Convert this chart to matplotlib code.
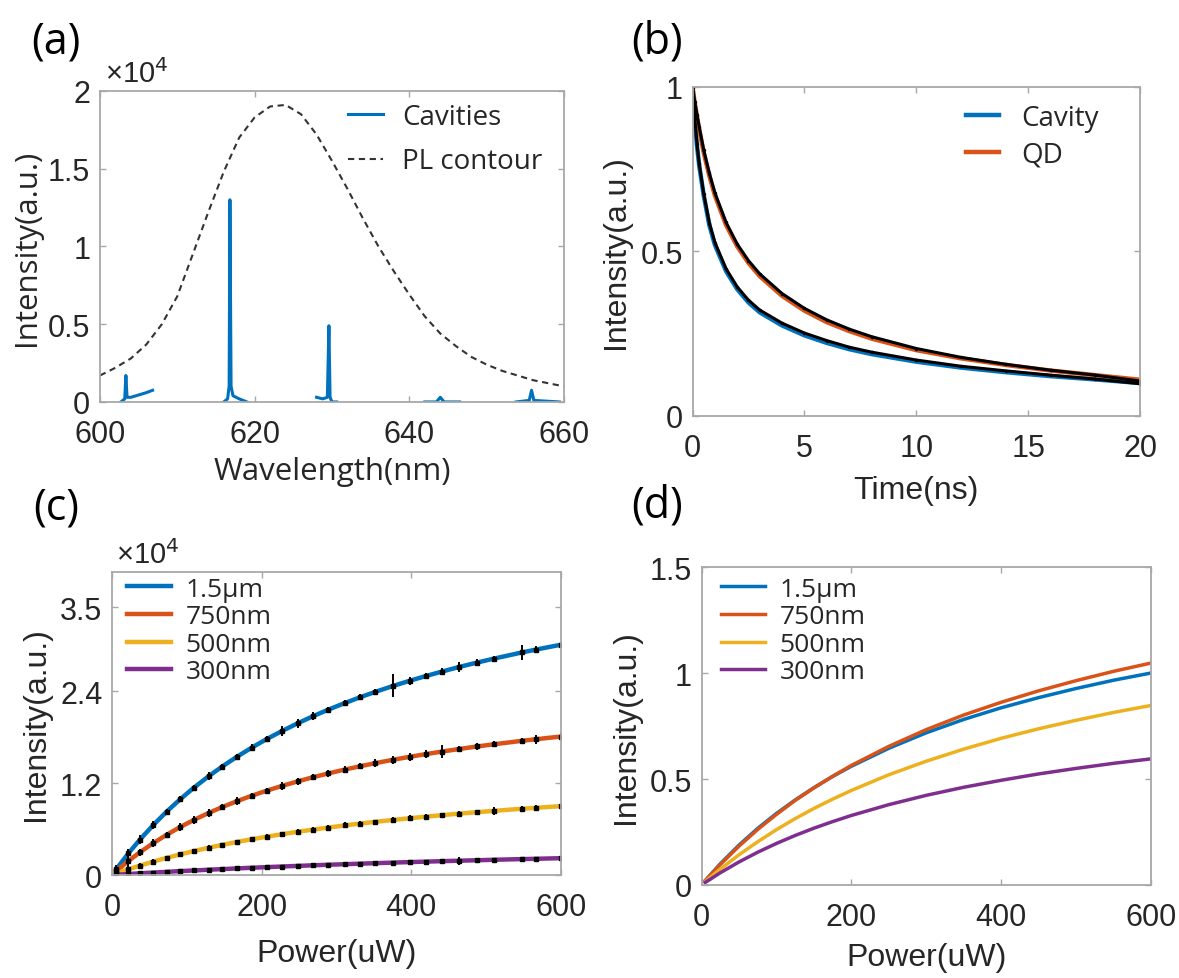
import numpy as np
import matplotlib
matplotlib.use("Agg")
import matplotlib.pyplot as plt

# ---------------- data ----------------
# (a) PL contour (x1e4)
pl_wl = [600, 602, 604, 606, 608, 610, 612, 614, 616, 618, 620, 622, 624, 626, 628, 630,
         632, 634, 636, 638, 640, 642, 644, 646, 648, 650, 652, 654, 656, 658, 660]
pl_int = [0.17, 0.22, 0.28, 0.37, 0.50, 0.68, 0.95, 1.22, 1.48, 1.70, 1.83, 1.90, 1.91, 1.85,
          1.72, 1.55, 1.37, 1.18, 1.00, 0.84, 0.69, 0.55, 0.44, 0.36, 0.29, 0.24, 0.20, 0.17,
          0.14, 0.12, 0.10]
# (a) cavity spectrum segments (x1e4)
cav_wl = [602.7, 603.2, 603.35, 603.5, 604.0, 605.0, 606.0, 606.8, np.nan,
          616.0, 616.5, 616.7, 616.8, 616.95, 617.2, 618.0, 619.0, np.nan,
          628.0, 628.8, 629.4, 629.6, 629.75, 630.0, 630.6, np.nan,
          642.0, 643.5, 644.0, 644.5, 646.5, np.nan,
          653.8, 655.5, 655.8, 656.1, 659.4]
cav_int = [0.0, 0.02, 0.17, 0.03, 0.03, 0.045, 0.06, 0.075, np.nan,
           0.0, 0.02, 0.10, 1.30, 0.10, 0.04, 0.02, 0.0, np.nan,
           0.03, 0.02, 0.03, 0.49, 0.03, 0.0, 0.0, np.nan,
           0.0, 0.0, 0.03, 0.0, 0.0, np.nan,
           0.0, 0.01, 0.075, 0.01, 0.0]

# (b) time-resolved decay
t_ns = [0, 0.1, 0.2, 0.3, 0.5, 0.75, 1.0, 1.5, 2.0, 2.5, 3.0, 4.0, 5.0, 6.0, 7.0, 8.0,
        10, 12, 14, 16, 18, 20]
cavity_fit = [1.0, 0.90, 0.82, 0.76, 0.67, 0.58, 0.52, 0.44, 0.385, 0.345, 0.315, 0.275,
              0.245, 0.222, 0.203, 0.188, 0.165, 0.147, 0.133, 0.121, 0.111, 0.10]
cavity_data = [1.0, 0.905, 0.825, 0.765, 0.675, 0.587, 0.527, 0.447, 0.392, 0.352, 0.322,
               0.282, 0.252, 0.229, 0.209, 0.194, 0.170, 0.151, 0.137, 0.124, 0.112, 0.098]
qd_fit = [1.0, 0.95, 0.91, 0.87, 0.80, 0.73, 0.67, 0.58, 0.515, 0.465, 0.425, 0.365, 0.32,
          0.285, 0.258, 0.235, 0.20, 0.175, 0.155, 0.138, 0.124, 0.11]
qd_data = [1.0, 0.955, 0.915, 0.878, 0.808, 0.738, 0.678, 0.588, 0.522, 0.472, 0.432, 0.372,
           0.327, 0.292, 0.264, 0.241, 0.205, 0.178, 0.157, 0.139, 0.124, 0.106]

# (c) power dependence (x1e4)
power_c = [6, 22, 37, 55, 73, 91, 109, 129, 147, 167, 187, 207, 227, 248, 269, 289, 311, 331,
           352, 376, 398, 420, 441, 464, 488, 510, 548, 566, 600]
c_15um = [0.081, 0.284, 0.459, 0.652, 0.828, 0.989, 1.138, 1.290, 1.416, 1.546, 1.666, 1.778,
          1.881, 1.982, 2.077, 2.161, 2.247, 2.321, 2.394, 2.472, 2.539, 2.602, 2.659, 2.719,
          2.777, 2.827, 2.909, 2.945, 3.010]
c_750nm = [0.053, 0.183, 0.295, 0.416, 0.526, 0.626, 0.718, 0.810, 0.887, 0.965, 1.037, 1.103,
           1.164, 1.223, 1.279, 1.327, 1.378, 1.420, 1.462, 1.507, 1.545, 1.581, 1.613, 1.647,
           1.680, 1.708, 1.754, 1.774, 1.810]
c_500nm = [0.021, 0.075, 0.122, 0.175, 0.224, 0.269, 0.312, 0.356, 0.393, 0.432, 0.468, 0.501,
           0.533, 0.565, 0.594, 0.620, 0.648, 0.672, 0.695, 0.720, 0.742, 0.763, 0.782, 0.802,
           0.821, 0.838, 0.866, 0.878, 0.900]
c_300nm = [0.004, 0.013, 0.022, 0.032, 0.041, 0.051, 0.059, 0.069, 0.077, 0.086, 0.095, 0.103,
           0.111, 0.119, 0.127, 0.134, 0.141, 0.148, 0.155, 0.162, 0.169, 0.175, 0.181, 0.187,
           0.193, 0.199, 0.208, 0.212, 0.220]
err_15um = [0.05, 0.06, 0.06, 0.05, 0.04, 0.04, 0.04, 0.05, 0.04, 0.04, 0.04, 0.04, 0.06, 0.06,
            0.05, 0.04, 0.04, 0.04, 0.04, 0.15, 0.05, 0.04, 0.04, 0.07, 0.04, 0.04, 0.10, 0.05, 0.04]
err_750nm = [0.05, 0.06, 0.05, 0.05, 0.04, 0.05, 0.05, 0.05, 0.04, 0.05, 0.04, 0.04, 0.05, 0.05,
             0.04, 0.05, 0.05, 0.04, 0.05, 0.05, 0.05, 0.05, 0.08, 0.04, 0.04, 0.04, 0.04, 0.06, 0.04]
err_500nm = [0.04, 0.04, 0.03, 0.03, 0.03, 0.03, 0.03, 0.03, 0.03, 0.03, 0.03, 0.03, 0.03, 0.03,
             0.03, 0.03, 0.04, 0.03, 0.03, 0.04, 0.04, 0.03, 0.03, 0.04, 0.03, 0.05, 0.03, 0.04, 0.03]
err_300nm = [0.02, 0.02, 0.02, 0.02, 0.02, 0.02, 0.02, 0.02, 0.02, 0.02, 0.02, 0.02, 0.02, 0.02,
             0.02, 0.02, 0.02, 0.02, 0.02, 0.02, 0.02, 0.02, 0.02, 0.05, 0.02, 0.02, 0.02, 0.02, 0.02]

# (d) normalized fits
power_d = [5, 25, 50, 75, 100, 125, 150, 175, 200, 250, 300, 350, 400, 450, 500, 550, 600]
d_15um = [0.021, 0.0997, 0.188, 0.267, 0.3375, 0.401, 0.459, 0.512, 0.560, 0.645, 0.718, 0.781,
          0.836, 0.884, 0.927, 0.966, 1.000]
d_750nm = [0.020, 0.0965, 0.183, 0.262, 0.333, 0.399, 0.458, 0.513, 0.564, 0.654, 0.733, 0.802,
           0.862, 0.916, 0.964, 1.008, 1.047]
d_500nm = [0.016, 0.0747, 0.1425, 0.204, 0.261, 0.313, 0.361, 0.405, 0.446, 0.520, 0.584, 0.641,
           0.692, 0.737, 0.777, 0.814, 0.847]
d_300nm = [0.012, 0.0574, 0.1086, 0.1546, 0.196, 0.2336, 0.268, 0.299, 0.328, 0.379, 0.423,
           0.461, 0.494, 0.524, 0.550, 0.574, 0.595]

series_labels = ["1.5\u00b5m", "750nm", "500nm", "300nm"]

# ---------------- style ----------------
C_BLUE = "#0072BD"
C_ORANGE = "#D95319"
C_YELLOW = "#EDB120"
C_PURPLE = "#7E2F8E"
TXT = "#262626"
SPINE = "#a8a8a8"
TICKFONT = ["Liberation Sans", "DejaVu Sans"]
LABFONT = ["Open Sans", "DejaVu Sans"]
TICK_FS = 22

fig = plt.figure(figsize=(11.79, 9.79), dpi=100)


def style_axes(ax):
    for s in ax.spines.values():
        s.set_color(SPINE)
        s.set_linewidth(1.3)
    ax.tick_params(direction="in", length=4, width=1.0, color=SPINE, top=True, right=True,
                   labelsize=TICK_FS, labelcolor=TXT)
    ax.tick_params(axis="x", pad=12)
    ax.tick_params(axis="y", pad=7)
    for lab in ax.get_xticklabels() + ax.get_yticklabels():
        lab.set_family(TICKFONT)


def set_labels(ax, xl, yl, xpos, ypos, font, fs):
    ax.set_xlabel(xl, fontsize=fs, color=TXT, family=font)
    ax.set_ylabel(yl, fontsize=fs, color=TXT, family=font)
    ax.xaxis.label.set(va="center", ha="center", rotation_mode="anchor")
    ax.yaxis.label.set(va="center", ha="center", rotation_mode="anchor")
    ax.xaxis.set_label_coords(0.5, xpos)
    ax.yaxis.set_label_coords(ypos, 0.5)


# ---------------- (a) ----------------
axa = fig.add_axes([0.0848, 0.5884, 0.3936, 0.3177])
axa.plot(cav_wl, cav_int, color=C_BLUE, lw=2.2, label="Cavities")
axa.plot(pl_wl, pl_int, color="#333333", lw=1.5, ls=(0, (3, 2.2)), label="PL contour")
axa.set_xlim(600, 660)
axa.set_ylim(0, 2)
axa.set_xticks([600, 620, 640, 660])
axa.set_xticklabels(["600", "620", "640", "660"])
axa.set_yticks([0, 0.5, 1, 1.5, 2])
axa.set_yticklabels(["0", "0.5", "1", "1.5", "2"])
style_axes(axa)
set_labels(axa, "Wavelength(nm)", "Intensity(a.u.)", -0.222, -0.157, LABFONT, 22.5)
axa.text(0.01, 1.01, "\u00d710$^{4}$", transform=axa.transAxes, fontsize=21, color=TXT,
         family=TICKFONT, ha="left", va="bottom")
axa.legend(loc="upper left", bbox_to_anchor=(0.535, 0.962), frameon=False,
           prop={"family": LABFONT, "size": 20}, handlelength=1.25, handletextpad=0.7,
           labelspacing=0.6, borderaxespad=0, borderpad=0, labelcolor=TXT)

# ---------------- (b) ----------------
axb = fig.add_axes([0.5874, 0.5741, 0.3796, 0.3361])
axb.plot(t_ns, cavity_fit, color=C_BLUE, lw=3.2, label="Cavity")
axb.plot(t_ns, qd_fit, color=C_ORANGE, lw=3.2, label="QD")
axb.plot(t_ns, cavity_data, color="black", lw=2.2, marker=".", ms=3)
axb.plot(t_ns, qd_data, color="black", lw=2.2, marker=".", ms=3)
axb.set_xlim(0, 20)
axb.set_ylim(0, 1)
axb.set_xticks([0, 5, 10, 15, 20])
axb.set_xticklabels(["0", "5", "10", "15", "20"])
axb.set_yticks([0, 0.5, 1])
axb.set_yticklabels(["0", "0.5", "1"])
style_axes(axb)
set_labels(axb, "Time(ns)", "Intensity(a.u.)", -0.225, -0.171, TICKFONT, 23)
axb.legend(loc="upper left", bbox_to_anchor=(0.61, 0.948), frameon=False,
           prop={"family": LABFONT, "size": 20}, handlelength=1.2,
           handletextpad=0.8, labelspacing=0.3, borderaxespad=0, borderpad=0,
           labelcolor=TXT)

# ---------------- (c) ----------------
axc = fig.add_axes([0.0950, 0.1052, 0.3808, 0.3095])
for vals, col, lab in [(c_15um, C_BLUE, series_labels[0]),
                       (c_750nm, C_ORANGE, series_labels[1]),
                       (c_500nm, C_YELLOW, series_labels[2]),
                       (c_300nm, C_PURPLE, series_labels[3])]:
    axc.plot(power_c, vals, color=col, lw=3.2, label=lab)
for vals, errs in [(c_15um, err_15um), (c_750nm, err_750nm),
                   (c_500nm, err_500nm), (c_300nm, err_300nm)]:
    axc.errorbar(power_c, vals, yerr=errs, fmt="none", ecolor="black", elinewidth=1.4, capsize=0)
    axc.plot(power_c, vals, ls="none", marker="s", ms=2.2, color="black")
axc.set_xlim(0, 600)
axc.set_ylim(0, 3.96)
axc.set_xticks([0, 200, 400, 600])
axc.set_xticklabels(["0", "200", "400", "600"])
axc.set_yticks([0, 1.2, 2.4, 3.5])
axc.set_yticklabels(["0", "1.2", "2.4", "3.5"])
style_axes(axc)
set_labels(axc, "Power(uW)", "Intensity(a.u.)", -0.256, -0.169, TICKFONT, 23)
axc.text(0.01, 1.01, "\u00d710$^{4}$", transform=axc.transAxes, fontsize=21, color=TXT,
         family=TICKFONT, ha="left", va="bottom")
axc.legend(loc="upper left", bbox_to_anchor=(0.034, 0.985), frameon=False,
           prop={"family": LABFONT, "size": 19}, handlelength=1.65, handletextpad=0.55,
           labelspacing=0.1, borderaxespad=0, borderpad=0, labelcolor=TXT)

# ---------------- (d) ----------------
axd = fig.add_axes([0.5950, 0.0950, 0.3813, 0.3248])
for vals, col, lab in [(d_15um, C_BLUE, series_labels[0]),
                       (d_750nm, C_ORANGE, series_labels[1]),
                       (d_500nm, C_YELLOW, series_labels[2]),
                       (d_300nm, C_PURPLE, series_labels[3])]:
    axd.plot(power_d, vals, color=col, lw=2.5, label=lab)
axd.set_xlim(0, 600)
axd.set_ylim(0, 1.5)
axd.set_xticks([0, 200, 400, 600])
axd.set_xticklabels(["0", "200", "400", "600"])
axd.set_yticks([0, 0.5, 1, 1.5])
axd.set_yticklabels(["0", "0.5", "1", "1.5"])
style_axes(axd)
set_labels(axd, "Power(uW)", "Intensity(a.u.)", -0.225, -0.168, TICKFONT, 23)
axd.legend(loc="upper left", bbox_to_anchor=(0.044, 0.97), frameon=False,
           prop={"family": LABFONT, "size": 19}, handlelength=1.65, handletextpad=0.55,
           labelspacing=0.1, borderaxespad=0, borderpad=0, labelcolor=TXT)

# ---------------- panel labels ----------------
for x, y, s in [(56, 42, "(a)"), (657, 42, "(b)"), (56, 508, "(c)"), (657, 506, "(d)")]:
    fig.text(x / 1179, 1 - y / 979, s, fontsize=31, color="black", family=LABFONT,
             ha="center", va="center")

fig.savefig("out.png", dpi=100)
